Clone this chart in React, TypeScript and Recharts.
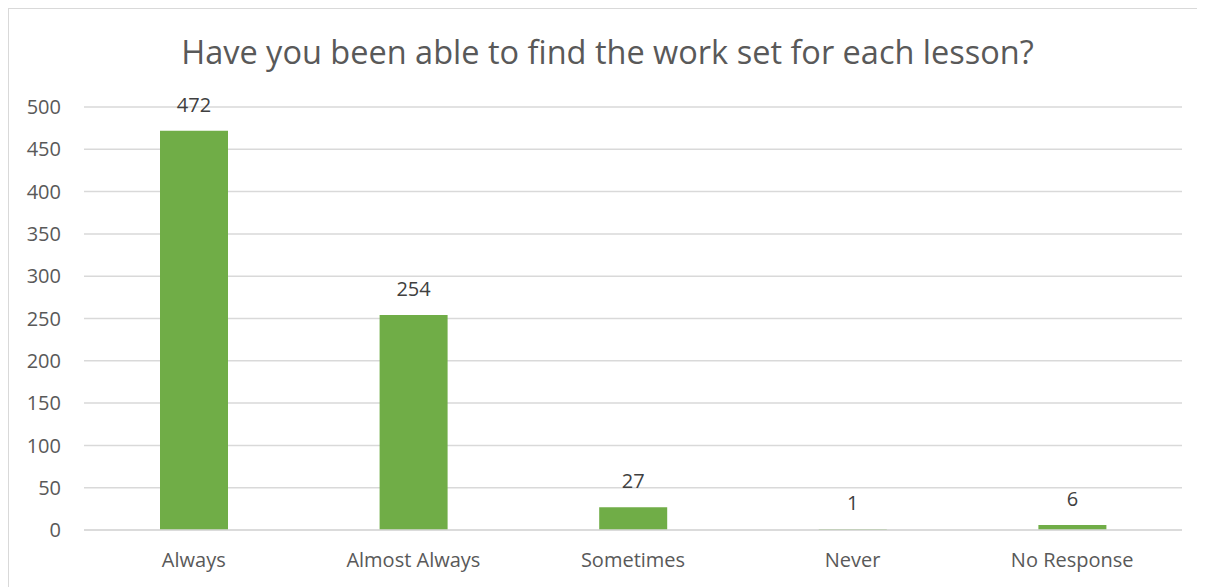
import { BarChart, Bar, XAxis, YAxis, CartesianGrid, LabelList } from "recharts";

const categories = ["Always", "Almost Always", "Sometimes", "Never", "No Response"];
const responses = [472, 254, 27, 1, 6];
const yTicks = [0, 50, 100, 150, 200, 250, 300, 350, 400, 450, 500];

const chartData = categories.map((name, i) => ({ name, count: responses[i] }));

const FONT = "'Open Sans', sans-serif";
const TEXT = "#595959";
const GRID = "#d9d9d9";

export default function App() {
  return (
    <div
      style={{
        position: "relative",
        width: 1215,
        height: 590,
        borderLeft: `1px solid ${GRID}`,
        borderTop: `1px solid ${GRID}`,
        fontFamily: FONT,
        background: "#fff",
      }}
    >
      <style>{`html,body{overflow:hidden}`}</style>
      <div
        style={{
          position: "absolute",
          left: 0,
          top: 23,
          width: 1197,
          textAlign: "center",
          fontSize: 32.5,
          color: TEXT,
          lineHeight: "40px",
        }}
      >
        Have you been able to find the work set for each lesson?
      </div>
      <BarChart
        width={1197}
        height={579}
        data={chartData}
        margin={{ top: 98, right: 24, bottom: 0, left: 0 }}
      >
        <CartesianGrid vertical={false} stroke={GRID} strokeWidth={1.5} />
        <XAxis
          dataKey="name"
          height={58}
          axisLine={{ stroke: GRID, strokeWidth: 1.5 }}
          tickLine={false}
          tickMargin={17}
          tick={{ fill: TEXT, fontSize: 20, fontFamily: FONT }}
          interval={0}
        />
        <YAxis
          width={75}
          domain={[0, 500]}
          ticks={yTicks}
          axisLine={false}
          tickLine={false}
          tickMargin={17}
          tick={{ fill: TEXT, fontSize: 20, fontFamily: FONT }}
        />
        <Bar dataKey="count" fill="#70ad47" barSize={68} isAnimationActive={false}>
          <LabelList
            dataKey="count"
            position="top"
            offset={19}
            style={{ fill: "#404040", fontSize: 20, fontFamily: FONT }}
          />
        </Bar>
      </BarChart>
    </div>
  );
}
